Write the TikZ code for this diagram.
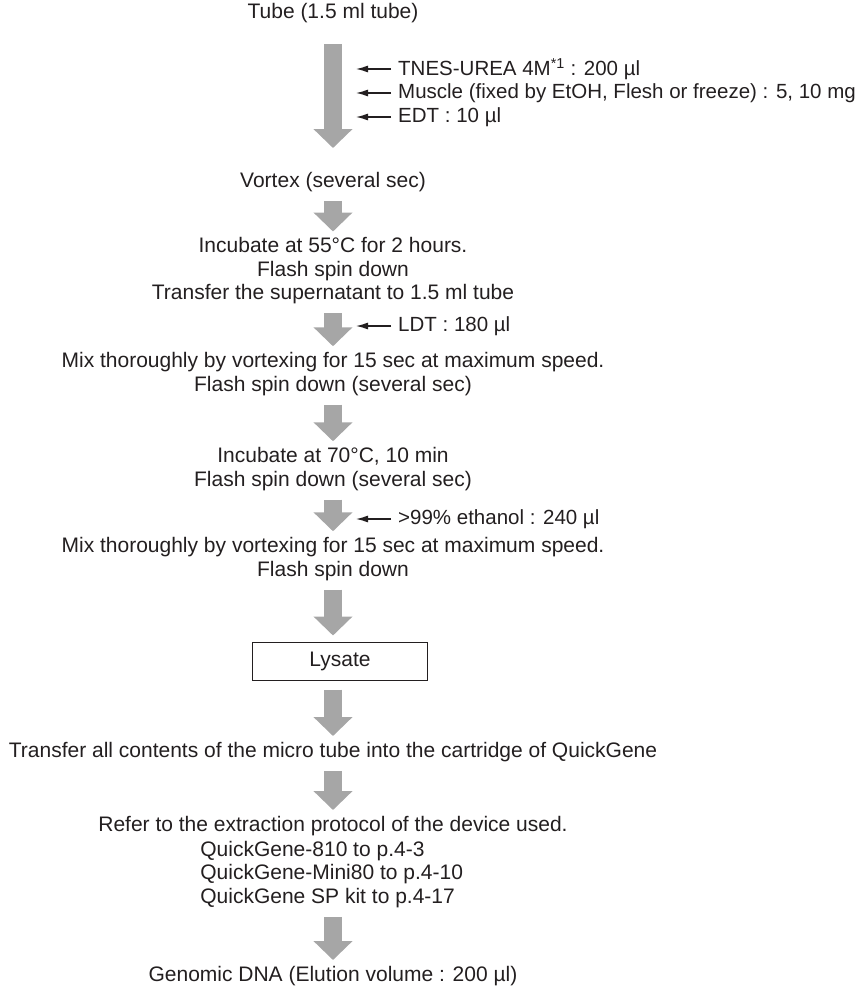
\documentclass[tikz,border=0pt]{standalone}
\usepackage{fontspec}
\setmainfont{Liberation Sans}
\usetikzlibrary{positioning,arrows.meta}
\definecolor{flowgray}{RGB}{166,166,166}
\definecolor{inkgray}{RGB}{35,31,32}

\begin{document}
\begin{tikzpicture}[x=1pt, y=-1pt,
  stepnode/.style={align=center, inner sep=0pt, text=inkgray, font=\fontsize{21}{23.5}\selectfont},
  addnode/.style={stepnode, anchor=west, font=\fontsize{20.5}{23.5}\selectfont},
  boxnode/.style={stepnode, draw=inkgray, line width=1pt, minimum width=175pt, minimum height=38pt},
  bigarrow/.style={draw=flowgray, line width=18.5pt, -{Triangle[width=38pt,length=19pt]}, shorten <=9pt, shorten >=6pt},
  addarrow/.style={draw=inkgray, line width=1.3pt, -{Latex[length=12pt,width=7pt]}, shorten <=7pt}
]
\useasboundingbox (0,0) rectangle (866,987);

% main column
\node[stepnode] (tube) at (333,13) {Tube (1.5 ml tube)};
\node[stepnode] (vortex) at (333,182) {Vortex (several sec)};
\node[stepnode] (incA) at (333,271) {Incubate at 55°C for 2 hours.\\Flash spin down\\Transfer the supernatant to 1.5 ml tube};
\node[stepnode] (mixA) at (333,374) {Mix thoroughly by vortexing for 15 sec at maximum speed.\\Flash spin down (several sec)};
\node[stepnode] (incB) at (333,469) {Incubate at 70°C, 10 min\\Flash spin down (several sec)};
\node[stepnode] (mixB) at (333,559) {Mix thoroughly by vortexing for 15 sec at maximum speed.\\Flash spin down};
\node[boxnode] (lysate) at (340,661) {Lysate};
\node[stepnode] (transfer) at (333,752) {Transfer all contents of the micro tube into the cartridge of QuickGene};
\node[stepnode] (refer) at (333,826) {Refer to the extraction protocol of the device used.};
\node[stepnode, align=left, below=5pt of refer.south west, anchor=north west, xshift=102pt] (devices) {QuickGene-810 to p.4-3\\QuickGene-Mini80 to p.4-10\\QuickGene SP kit to p.4-17};
\node[stepnode] (genomic) at (333,976) {Genomic DNA (Elution volume : 200 µl)};

% reagents added on the way
\coordinate (inlet) at (356,0);
\node[addnode] (tnes) at (398,69) {TNES-UREA 4M\textsuperscript{*1} : 200 µl};
\node[addnode] (muscle) at (398,93) {Muscle (fixed by EtOH, Flesh or freeze) : 5, 10 mg};
\node[addnode] (edt) at (398,117) {EDT : 10 µl};
\node[addnode] (ldt) at (398,326) {LDT : 180 µl};
\node[addnode] (ethanol) at (398,519) {>99\% ethanol : 240 µl};

\draw[bigarrow, shorten <=21pt, shorten >=24pt] (tube.south) -- (vortex.north);
\draw[bigarrow] (vortex.south) -- (incA.north);
\draw[bigarrow] (incA.south) -- (mixA.north);
\draw[bigarrow] (mixA.south) -- (incB.north);
\draw[bigarrow] (incB.south) -- (mixB.north);
\draw[bigarrow] (mixB.south) -- (lysate.north -| mixB.south);
\draw[bigarrow] (lysate.south -| transfer.north) -- (transfer.north);
\draw[bigarrow] (transfer.south) -- (refer.north);
\draw[bigarrow] (devices.south -| genomic.north) -- (genomic.north);

\foreach \reagent in {tnes, muscle, edt, ldt, ethanol}
  \draw[addarrow] (\reagent.west) -- (\reagent.west -| inlet);
\end{tikzpicture}
\end{document}
